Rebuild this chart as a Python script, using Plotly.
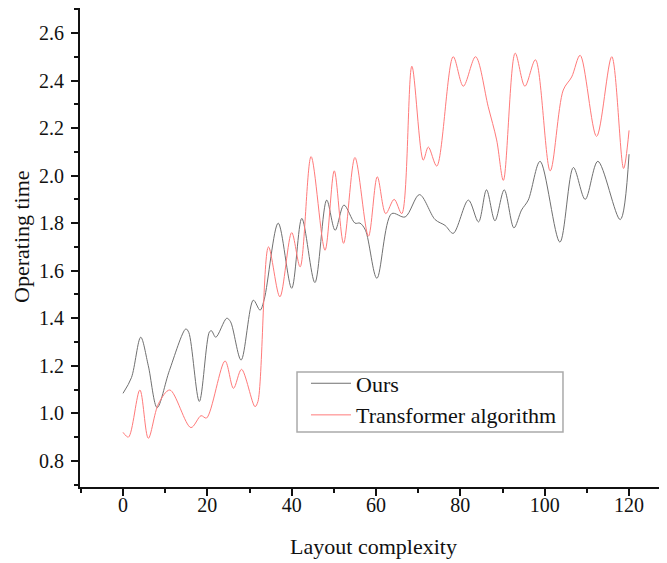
import plotly.graph_objects as go

ours_x = [0, 2, 4.2, 6, 8.1, 11, 14.9, 15.6, 18.1, 20.5, 21, 22, 24.6, 25.5, 28, 30.9, 32.5, 33.5,
          36.8, 40, 42.4, 45.5, 48.3, 50.3, 52.4, 55, 56.2, 57.5, 60.2, 63.7, 66.9, 70.3, 74, 76.4,
          78.3, 81.9, 84.3, 86.2, 88.2, 90.4, 92.7, 94.5, 96.1, 98.9, 103.6, 106.8, 109.6, 112.6,
          117.9, 120]
ours_y = [1.084, 1.15, 1.32, 1.2, 1.024, 1.18, 1.355, 1.34, 1.05, 1.343, 1.347, 1.32, 1.40, 1.385,
          1.224, 1.476, 1.434, 1.48, 1.80, 1.526, 1.82, 1.55, 1.897, 1.77, 1.876, 1.80, 1.80, 1.77,
          1.568, 1.84, 1.826, 1.92, 1.815, 1.79, 1.757, 1.897, 1.805, 1.94, 1.81, 1.94, 1.78, 1.855,
          1.897, 2.06, 1.72, 2.034, 1.90, 2.06, 1.815, 2.09]

trans_x = [0, 1.3, 4, 6, 8.4, 11.1, 16.1, 18.5, 19.8, 24.2, 26.2, 28.1, 31.3, 32, 34.5, 37.2, 40,
           42, 44.6, 47.9, 50.1, 52.3, 55, 58.2, 60.3, 62.3, 64.3, 66.1, 68.5, 71.2, 72.4, 74.4,
           78.3, 80.7, 83.6, 86.6, 88.6, 90.2, 93, 95.3, 97.8, 101.3, 104.4, 106.4, 108.4, 112.3,
           115.9, 118.7, 120]
trans_y = [0.92, 0.90, 1.098, 0.895, 1.04, 1.098, 0.94, 0.99, 0.98, 1.22, 1.105, 1.185, 1.028, 1.05,
           1.70, 1.49, 1.76, 1.616, 2.08, 1.686, 2.02, 1.715, 2.076, 1.745, 1.995, 1.84, 1.90, 1.84,
           2.46, 2.065, 2.12, 2.04, 2.50, 2.376, 2.50, 2.29, 2.15, 1.98, 2.515, 2.376, 2.487, 2.02,
           2.36, 2.415, 2.506, 2.165, 2.50, 2.03, 2.19]

x_ticks = [0, 20, 40, 60, 80, 100, 120]
y_ticks = [0.8, 1.0, 1.2, 1.4, 1.6, 1.8, 2.0, 2.2, 2.4, 2.6]

FONT = "Liberation Serif, Times New Roman, serif"

fig = go.Figure()
fig.add_trace(go.Scatter(x=ours_x, y=ours_y, mode="lines", name="Ours",
                         line=dict(color="#707070", width=1, shape="spline", smoothing=0.9)))
fig.add_trace(go.Scatter(x=trans_x, y=trans_y, mode="lines", name="Transformer algorithm",
                         line=dict(color="#ff7a7a", width=1, shape="spline", smoothing=0.9)))

# legend frame (drawn as a shape to get the tight padding of the original)
fig.add_shape(type="rect", xref="paper", yref="paper",
              x0=0.3697, x1=0.8228, y0=0.1148, y1=0.2401,
              line=dict(color="#aaaaaa", width=1.5), fillcolor="rgba(0,0,0,0)", layer="above")

# y-axis title as annotation (sits slightly above the plot centre in the original)
fig.add_annotation(text="Operating time", xref="paper", yref="paper", x=0, y=0.522,
                   xshift=-58, xanchor="center", yanchor="middle", textangle=-90,
                   showarrow=False, font=dict(family=FONT, size=22, color="#111"))

# page body has an 8px margin -> figure shrunk and margins reduced accordingly
fig.update_layout(
    width=659, height=555,
    margin=dict(l=72, r=0, t=0, b=76),
    paper_bgcolor="white", plot_bgcolor="white",
    font=dict(family=FONT, size=20, color="#111"),
    showlegend=True,
    legend=dict(x=0.385, y=0.26, xanchor="left", yanchor="top",
                borderwidth=0, bgcolor="rgba(0,0,0,0)",
                font=dict(family=FONT, size=22, color="#111"),
                tracegroupgap=0, itemwidth=40),
    xaxis=dict(range=[-10.2, 129], tickvals=x_ticks, ticks="outside", ticklen=7, tickwidth=2,
               showline=True, linecolor="#111", linewidth=2, showgrid=False, zeroline=False,
               automargin=False, ticklabelstandoff=-8,
               minor=dict(dtick=10, tick0=0, ticks="outside", ticklen=4, tickwidth=2, tickcolor="#111"),
               tickcolor="#111",
               title=dict(text="Layout complexity", font=dict(family=FONT, size=22), standoff=24)),
    yaxis=dict(range=[0.69, 2.705], tickvals=y_ticks, tickformat=".1f", ticks="outside", ticklen=7,
               tickwidth=2, showline=True, linecolor="#111", linewidth=2, showgrid=False,
               zeroline=False, tickcolor="#111", automargin=False, ticklabelstandoff=3,
               minor=dict(dtick=0.1, tick0=0.7, ticks="outside", ticklen=4, tickwidth=2, tickcolor="#111")),
)

fig.write_html("out.html")
